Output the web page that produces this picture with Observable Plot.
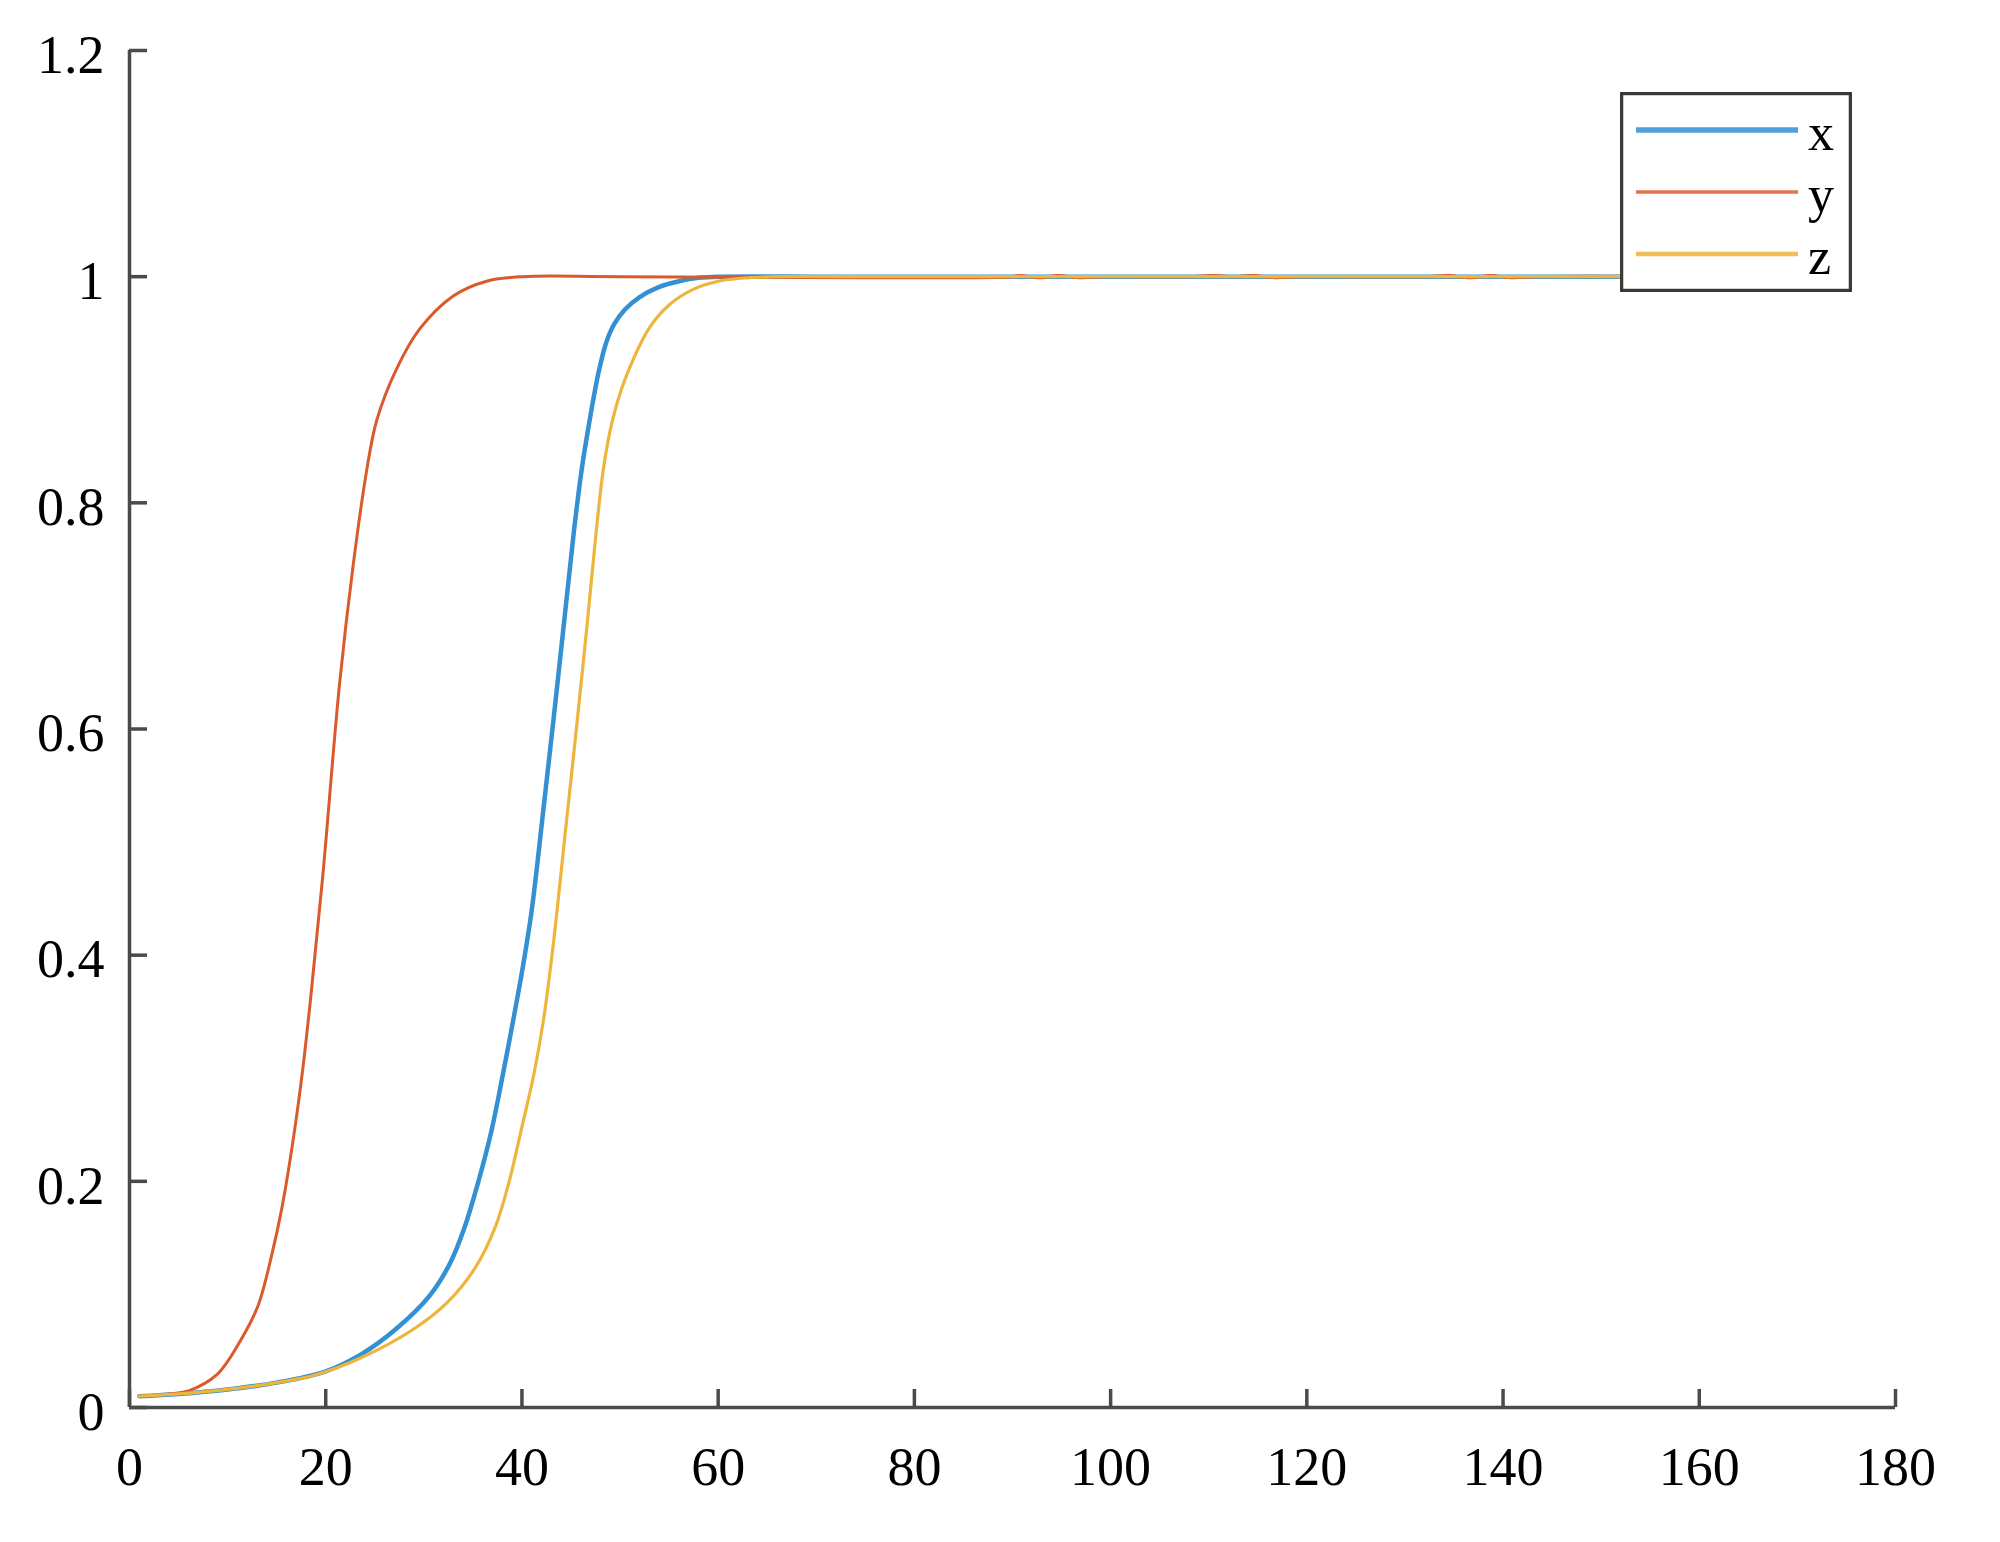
<!DOCTYPE html>
<html>
<head>
<meta charset="utf-8">
<script src="https://cdn.jsdelivr.net/npm/d3@7"></script>
<script src="https://cdn.jsdelivr.net/npm/@observablehq/plot@0.6"></script>
<style>
  html, body { margin: 0; padding: 0; background: #fff; }
  #wrap { position: relative; width: 2000px; height: 1542px; }
  #legend { position: absolute; }
</style>
</head>
<body>
<div id="wrap"></div>
<script>
// ---- data ----
const seriesNames = ["x", "y", "z"];
const seriesColors = ["#3390D2", "#DB5A2C", "#EDB53C"];

const xT = [1, 5, 10, 15, 20, 23.6, 27.1, 30.6, 32.7, 34.1, 35.5, 36.9, 38, 39.1, 40.1, 41, 42.2, 43.3, 44.4, 45.3, 46.1, 47, 47.8, 48.6, 49.4, 50.5, 52, 54, 56, 58, 60.5, 70, 80, 160];
const xV = [0.010, 0.012, 0.016, 0.022, 0.032, 0.047, 0.069, 0.099, 0.128, 0.158, 0.198, 0.245, 0.292, 0.342, 0.390, 0.440, 0.530, 0.615, 0.703, 0.775, 0.830, 0.878, 0.915, 0.942, 0.958, 0.971, 0.982, 0.991, 0.996, 0.999, 1.0, 1.0, 1.0, 1.0];

const yT = [1, 4, 6.1, 8.9, 11.3, 13.1, 14.5, 15.5, 16.6, 17.6, 18.5, 19.7, 21.4, 22.8, 24.2, 25.2, 27.2, 29.6, 33, 36.4, 40, 50, 90, 90.6, 92.9, 94.6, 97, 99, 108, 110.5, 112.5, 114.6, 116.8, 119, 132, 134.5, 136.7, 138.7, 141, 143, 160];
const yV = [0.010, 0.012, 0.015, 0.029, 0.059, 0.090, 0.135, 0.175, 0.232, 0.295, 0.365, 0.470, 0.639, 0.745, 0.830, 0.873, 0.918, 0.954, 0.983, 0.996, 1.0, 1.0, 1.0, 1.001, 0.999, 1.001, 0.999, 1.0, 1.0, 1.001, 1.0, 1.001, 0.999, 1.0, 1.0, 1.001, 0.999, 1.001, 0.999, 1.0, 1.0];

const zT = [1, 5, 10, 15, 19, 23.6, 28.9, 32.4, 35.2, 37.3, 38.7, 40.1, 41.2, 42.2, 43.2, 44.4, 45.5, 46.5, 47.4, 48.3, 49.2, 50.2, 51.5, 53, 55, 57.5, 60, 63, 66, 75, 85, 160];
const zV = [0.010, 0.012, 0.016, 0.022, 0.029, 0.044, 0.069, 0.093, 0.123, 0.160, 0.200, 0.252, 0.294, 0.343, 0.410, 0.507, 0.596, 0.680, 0.760, 0.830, 0.872, 0.902, 0.930, 0.955, 0.975, 0.989, 0.996, 0.999, 1.0, 1.0, 1.0, 1.0];

const xTicks = [0, 20, 40, 60, 80, 100, 120, 140, 160, 180];
const yTicks = [0, 0.2, 0.4, 0.6, 0.8, 1, 1.2];

// ---- build tables ----
const toRows = (T, V) => T.map((t, i) => ({t, v: V[i]}));
const rowsX = toRows(xT, xV);
const rowsY = toRows(yT, yV);
const rowsZ = toRows(zT, zV);

const axisColor = "#4a4a4a";
const font = "'Liberation Serif', 'Times New Roman', serif";

const chart = Plot.plot({
  width: 2000,
  height: 1542,
  marginLeft: 129,
  marginRight: 105,
  marginTop: 50,
  marginBottom: 135,
  x: {domain: [0, 180]},
  y: {domain: [0, 1.2]},
  style: {fontFamily: font, fontSize: "54px", color: "#000", background: "#fff"},
  marks: [
    Plot.line(rowsX, {x: "t", y: "v", stroke: seriesColors[0], strokeWidth: 4.5, curve: "catmull-rom"}),
    Plot.line(rowsY, {x: "t", y: "v", stroke: seriesColors[1], strokeWidth: 3, curve: "catmull-rom"}),
    Plot.line(rowsZ, {x: "t", y: "v", stroke: seriesColors[2], strokeWidth: 3.2, curve: "catmull-rom"}),
    Plot.ruleX([0], {stroke: axisColor, strokeWidth: 3.5}),
    Plot.ruleY([0], {stroke: axisColor, strokeWidth: 3.5}),
    Plot.axisX(xTicks, {tickSize: -18, stroke: axisColor, strokeWidth: 3.5, tickFormat: () => "", label: null}),
    Plot.axisX(xTicks, {tickSize: 0, tickPadding: 39, fontSize: 54, tickFormat: d => String(d), label: null}),
    Plot.axisY(yTicks, {tickSize: -18, stroke: axisColor, strokeWidth: 3.5, tickFormat: () => "", label: null}),
    Plot.axisY(yTicks, {tickSize: 0, tickPadding: 25, dy: 5, fontSize: 54, tickFormat: d => String(d), label: null})
  ]
});

const wrap = document.getElementById("wrap");
wrap.appendChild(chart);

// ---- legend overlay ----
const leg = document.createElement("div");
leg.id = "legend";
leg.style.left = "1620px";
leg.style.top = "92px";
wrap.appendChild(leg);
const lw = 232, lh = 200;
const svg = d3.select(leg).append("svg").attr("width", lw).attr("height", lh);
svg.append("rect").attr("x", 1.5).attr("y", 1.5).attr("width", lw - 3).attr("height", lh - 3)
  .attr("fill", "#fff").attr("stroke", "#3a3a3a").attr("stroke-width", 3.5);
const legendWidths = [5.5, 3.5, 4.5];
seriesNames.forEach((name, i) => {
  const cy = 38 + i * 62;
  svg.append("line").attr("x1", 16).attr("x2", 178).attr("y1", cy).attr("y2", cy)
    .attr("stroke", seriesColors[i]).attr("stroke-width", legendWidths[i]).attr("opacity", 0.85);
  svg.append("text").attr("x", 188).attr("y", cy + 20).text(name)
    .attr("font-family", font).attr("font-size", 52).attr("fill", "#000");
});
</script>
</body>
</html>
